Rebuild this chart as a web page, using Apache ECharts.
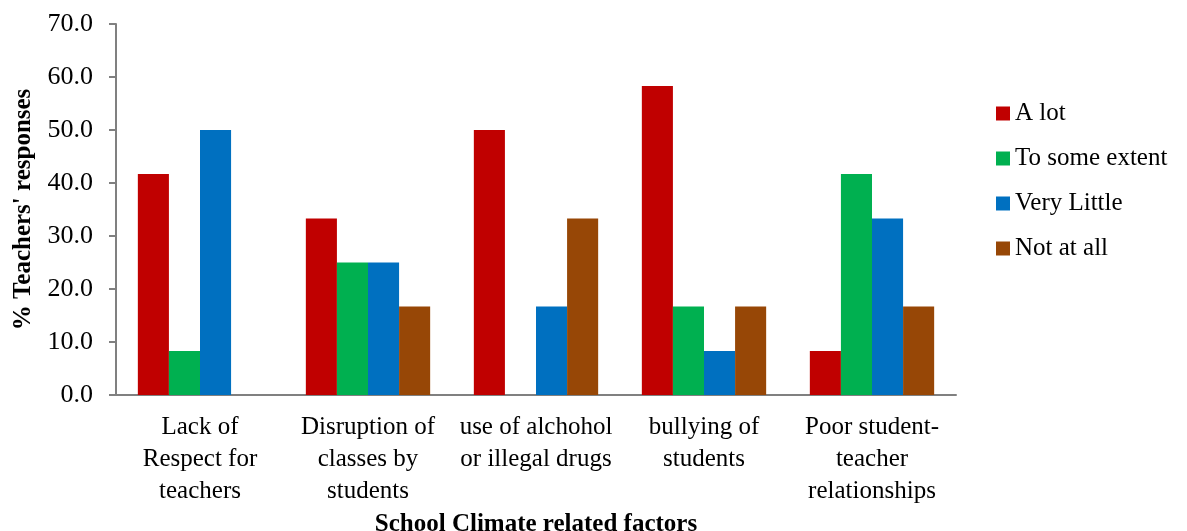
<!DOCTYPE html>
<html>
<head>
<meta charset="utf-8">
<script src="https://cdn.jsdelivr.net/npm/echarts@6/dist/echarts.min.js"></script>
<style>
  html, body { margin: 0; padding: 0; background: #fff; }
  #chart { width: 1187px; height: 531px; }
</style>
</head>
<body>
<div id="chart"></div>
<script>
// Factors on the category axis
const categories = [
  'Lack of\nRespect for\nteachers',
  'Disruption of\nclasses by\nstudents',
  'use of alchohol\nor illegal drugs',
  'bullying of\nstudents',
  'Poor student-\nteacher\nrelationships'
];

// Share of teachers (%) per response level
const aLot = [41.7, 33.3, 50.0, 58.3, 8.3];
const toSomeExtent = [8.3, 25.0, 0, 16.7, 41.7];
const veryLittle = [50.0, 25.0, 16.7, 8.3, 33.3];
const notAtAll = [0, 16.7, 33.3, 16.7, 16.7];

const seriesNames = ['A lot', 'To some extent', 'Very Little', 'Not at all'];
const seriesColors = ['#C00000', '#00B050', '#0070C0', '#974706'];

const yTicks = { min: 0, max: 70, interval: 10 };

const font = 'Liberation Serif, Times New Roman, serif';

const chart = echarts.init(document.getElementById('chart'));

const values = [aLot, toSomeExtent, veryLittle, notAtAll];

chart.setOption({
  backgroundColor: '#fff',
  animation: false,
  textStyle: { fontFamily: font, color: '#000' },
  grid: { left: 116, right: 231, top: 24, bottom: 136, outerBoundsMode: 'none' },
  legend: {
    orient: 'vertical',
    left: 996,
    top: 101,
    padding: 0,
    itemWidth: 14,
    itemHeight: 14,
    itemGap: 20,
    icon: 'rect',
    textStyle: { fontFamily: font, fontSize: 25, color: '#000' },
    data: seriesNames
  },
  xAxis: {
    type: 'category',
    data: categories,
    name: 'School Climate related factors',
    nameLocation: 'middle',
    nameGap: 108,
    nameTextStyle: { fontFamily: font, fontSize: 25, fontWeight: 'bold', color: '#000' },
    axisLine: { lineStyle: { color: '#808080', width: 2 } },
    axisTick: { show: false },
    axisLabel: {
      interval: 0,
      fontFamily: font,
      fontSize: 25,
      lineHeight: 32,
      color: '#000',
      margin: 16
    }
  },
  yAxis: {
    type: 'value',
    min: yTicks.min,
    max: yTicks.max,
    interval: yTicks.interval,
    name: '% Teachers\' responses',
    nameLocation: 'middle',
    nameGap: 80,
    nameRotate: 90,
    nameTextStyle: { fontFamily: font, fontSize: 25, fontWeight: 'bold', color: '#000' },
    axisLine: { show: true, lineStyle: { color: '#808080', width: 2 } },
    axisTick: { show: true, length: 7, lineStyle: { color: '#808080', width: 2 } },
    splitLine: { show: false },
    axisLabel: {
      fontFamily: font,
      fontSize: 26,
      color: '#000',
      margin: 23,
      formatter: v => v.toFixed(1)
    }
  },
  series: seriesNames.map((name, i) => ({
    name,
    type: 'bar',
    data: values[i],
    barGap: '0%',
    barCategoryGap: '26%',
    itemStyle: { color: seriesColors[i] }
  }))
});
</script>
</body>
</html>
